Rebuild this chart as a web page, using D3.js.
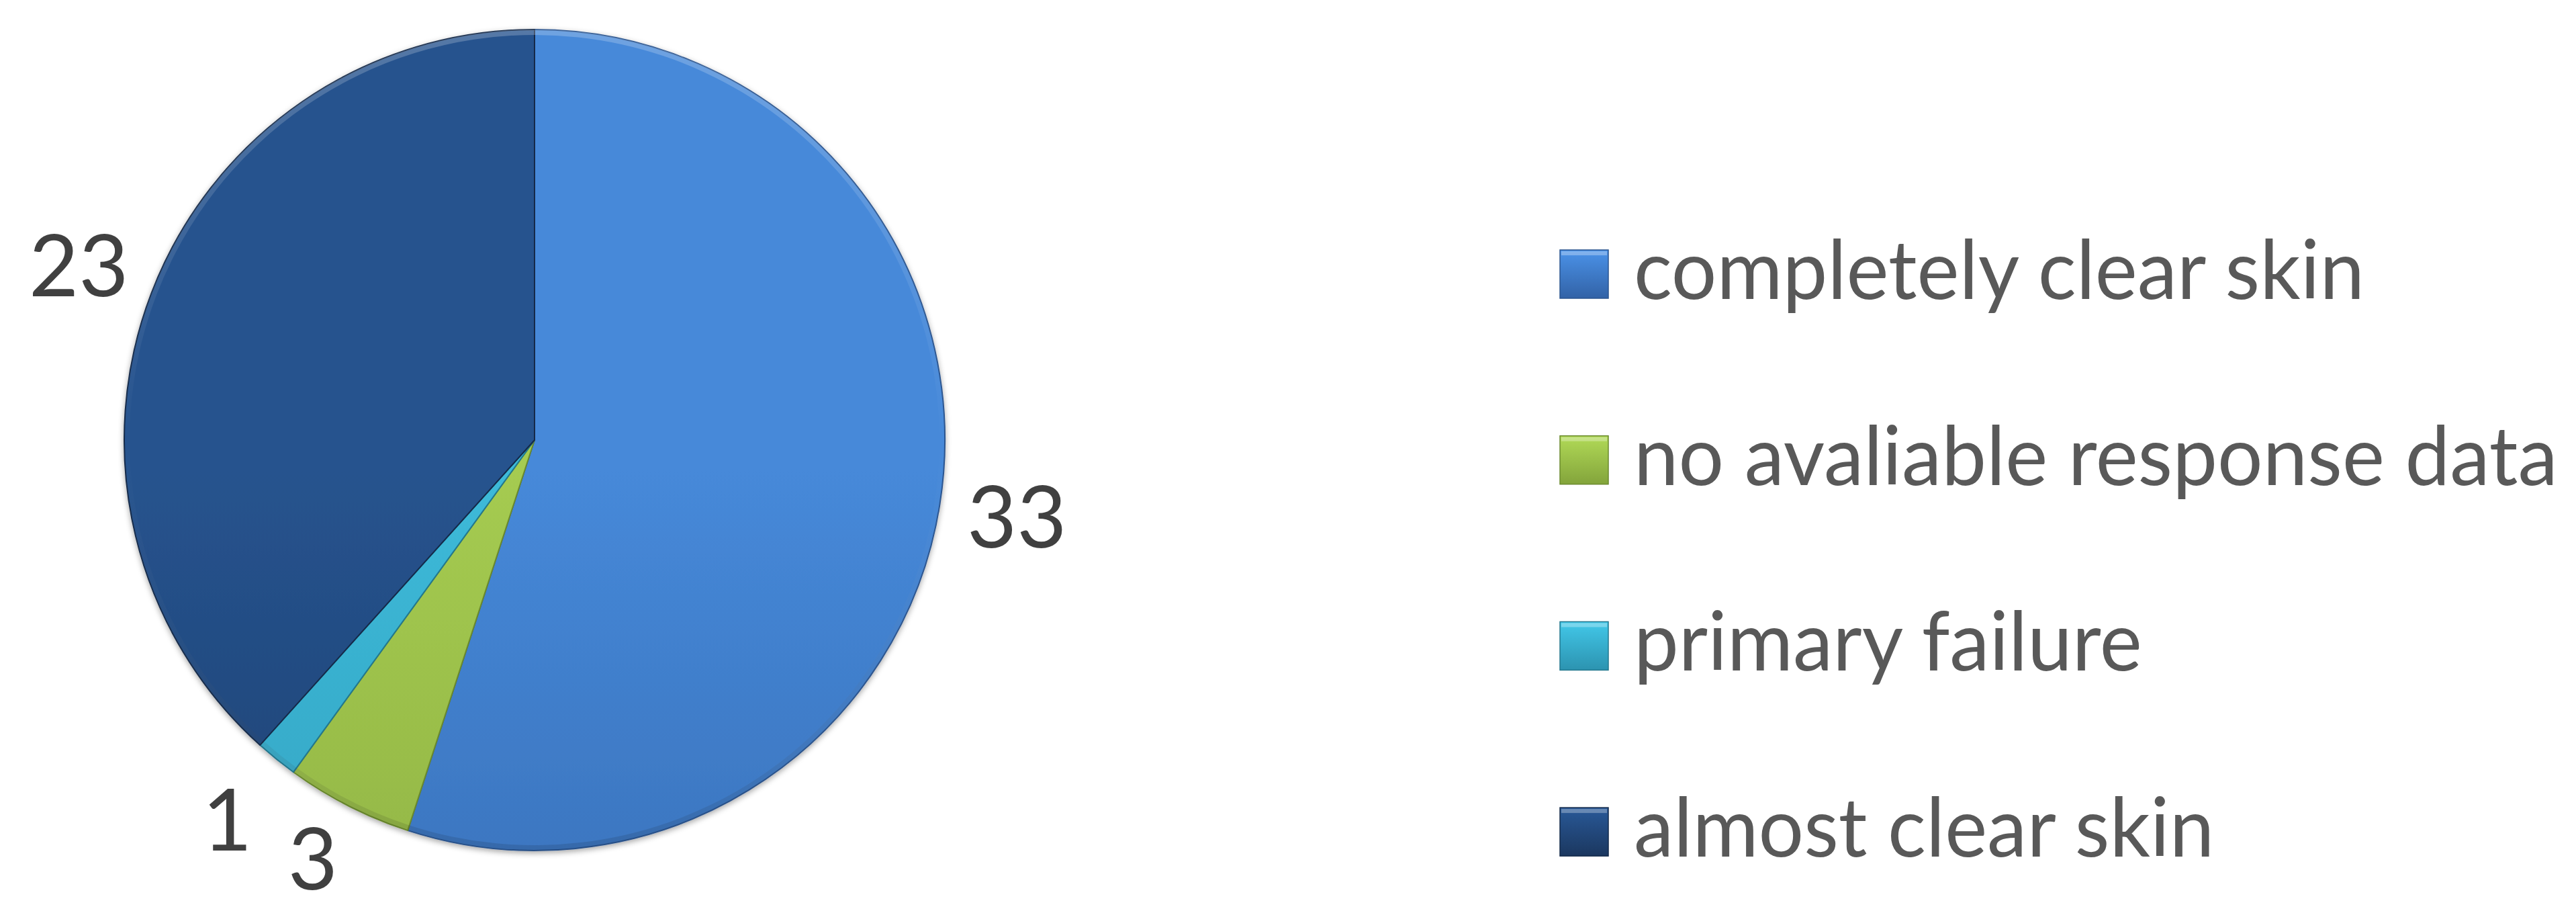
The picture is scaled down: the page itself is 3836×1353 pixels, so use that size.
<!DOCTYPE html>
<html>
<head>
<meta charset="utf-8">
<script src="https://cdn.jsdelivr.net/npm/d3@7"></script>
<style>
  html, body { margin: 0; padding: 0; background: #ffffff; }
  svg { display: block; }
</style>
</head>
<body>
<svg id="chart" width="3836" height="1353"></svg>
<script>
// ---- data ----
const categories = ["completely clear skin", "no avaliable response data", "primary failure", "almost clear skin"];
const values = [33, 3, 1, 23];
const valueLabels = ["33", "3", "1", "23"];

// ---- styles ----
const colorTop    = ["#4689d9", "#a5cb51", "#3dbad9", "#26538e"];
const colorBottom = ["#3262a6", "#83a43b", "#2c93b0", "#1b375f"];
const colorEdge   = ["#2b5590", "#6b8a2e", "#23788f", "#132a4a"];

const W = 3836, H = 1353;
const cx = 796, cy = 655, R = 611;
const labelR = R * 1.19;

const svg = d3.select("#chart");
const defs = svg.append("defs");

const shadow = defs.append("filter").attr("id", "shadow")
  .attr("x", "-10%").attr("y", "-10%").attr("width", "120%").attr("height", "120%");
shadow.append("feDropShadow").attr("dx", 0).attr("dy", 3).attr("stdDeviation", 4)
  .attr("flood-color", "#000").attr("flood-opacity", 0.35);

categories.forEach((c, i) => {
  const g = defs.append("linearGradient").attr("id", "g" + i)
    .attr("gradientUnits", "userSpaceOnUse")
    .attr("x1", 0).attr("y1", cy - R).attr("x2", 0).attr("y2", cy + R);
  g.append("stop").attr("offset", 0).attr("stop-color", colorTop[i]);
  g.append("stop").attr("offset", 1).attr("stop-color", colorBottom[i]);
  const lg = defs.append("linearGradient").attr("id", "lg" + i)
    .attr("x1", 0).attr("y1", 0).attr("x2", 0).attr("y2", 1);
  lg.append("stop").attr("offset", 0).attr("stop-color", d3.color(colorTop[i]).brighter(0.2));
  lg.append("stop").attr("offset", 1).attr("stop-color", colorBottom[i]);
});
// rim highlight
const rim = defs.append("linearGradient").attr("id", "rim")
  .attr("gradientUnits", "userSpaceOnUse")
  .attr("x1", 0).attr("y1", -R).attr("x2", 0).attr("y2", R);
rim.append("stop").attr("offset", 0).attr("stop-color", "#ffffff").attr("stop-opacity", 0.22);
rim.append("stop").attr("offset", 0.5).attr("stop-color", "#ffffff").attr("stop-opacity", 0.0);
rim.append("stop").attr("offset", 1).attr("stop-color", "#000000").attr("stop-opacity", 0.12);

const pie = d3.pie().sort(null).value(d => d).startAngle(0).endAngle(2 * Math.PI);
const arcs = pie(values);
const arc = d3.arc().innerRadius(0).outerRadius(R);
const rimArc = d3.arc().innerRadius(R - 8).outerRadius(R);

const pg = svg.append("g").attr("transform", `translate(${cx},${cy})`);
pg.append("g").attr("filter", "url(#shadow)")
  .selectAll("path").data(arcs).join("path")
  .attr("d", arc)
  .attr("fill", (d, i) => `url(#g${i})`)
  .attr("stroke", (d, i) => colorEdge[i])
  .attr("stroke-width", 2)
  .attr("stroke-linejoin", "round");
pg.append("g").selectAll("path").data(arcs).join("path")
  .attr("d", rimArc)
  .attr("fill", "url(#rim)");

// value labels
const labelFont = "Lato, 'Open Sans', sans-serif";
const labels = pg.append("g").selectAll("text").data(arcs).join("text")
  .attr("x", d => Math.sin((d.startAngle + d.endAngle) / 2) * labelR)
  .attr("y", d => -Math.cos((d.startAngle + d.endAngle) / 2) * labelR)
  .attr("text-anchor", "middle")
  .attr("dy", "0.36em")
  .attr("font-family", labelFont)
  .attr("font-size", 128)
  .attr("fill", "#404040")
  .text((d, i) => valueLabels[i]);
// keep labels inside the picture
labels.each(function () {
  const b = this.getBBox();
  const over = (cy + b.y + b.height) - (H - 2);
  if (over > 0) d3.select(this).attr("y", +d3.select(this).attr("y") - over);
});

// legend
const legX = 2323, legTop = 372, legStep = 276.7, sq = 72, textX = 2433;
const lgG = svg.append("g");
const rows = lgG.selectAll("g").data(categories).join("g")
  .attr("transform", (d, i) => `translate(0,${legTop + i * legStep})`);
rows.append("rect")
  .attr("x", legX).attr("y", 0).attr("width", sq).attr("height", sq)
  .attr("fill", (d, i) => `url(#lg${i})`)
  .attr("stroke", (d, i) => colorEdge[i]).attr("stroke-width", 1.5);
rows.append("rect")
  .attr("x", legX + 2).attr("y", 2).attr("width", sq - 4).attr("height", 6)
  .attr("fill", "#ffffff").attr("opacity", 0.3);
const texts = rows.append("text")
  .attr("font-family", labelFont)
  .attr("font-size", 122)
  .attr("fill", "#595959")
  .text(d => d);
// fit the longest entry to the reference width
let maxW = 0;
texts.each(function () { maxW = Math.max(maxW, this.getComputedTextLength()); });
const sx = Math.min(1, 1376 / maxW);
texts.attr("transform", `translate(${textX},${sq + 1}) scale(${sx},1)`);
</script>
</body>
</html>
